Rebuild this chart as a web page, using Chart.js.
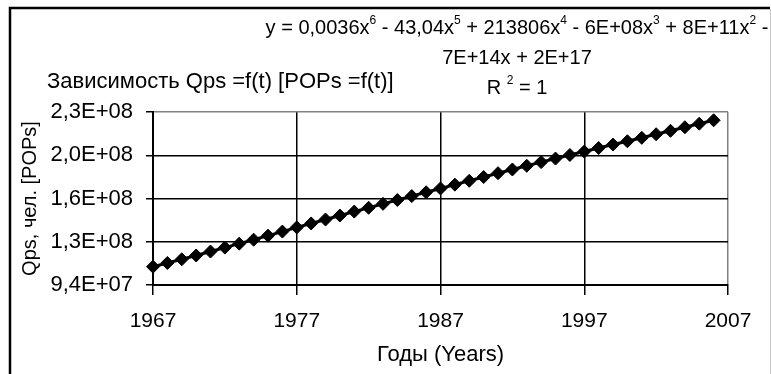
<!DOCTYPE html>
<html>
<head>
<meta charset="utf-8">
<script src="https://cdn.jsdelivr.net/npm/chart.js@4/dist/chart.umd.min.js"></script>
<style>
  html, body { margin: 0; padding: 0; background: #fff; }
  #wrap { width: 771px; height: 374px; }
</style>
</head>
<body>
<div id="wrap"><canvas id="popChart" width="771" height="374"></canvas></div>
<script>
// years and population (persons)
const years = [
  1967, 1968, 1969, 1970, 1971, 1972, 1973, 1974, 1975, 1976,
  1977, 1978, 1979, 1980, 1981, 1982, 1983, 1984, 1985, 1986,
  1987, 1988, 1989, 1990, 1991, 1992, 1993, 1994, 1995, 1996,
  1997, 1998, 1999, 2000, 2001, 2002, 2003, 2004, 2005, 2006
];
const population = [
  108.4e6, 111.3e6, 114.2e6, 117.2e6, 120.3e6, 123.4e6, 126.5e6, 129.6e6, 132.8e6, 136.0e6,
  139.3e6, 142.4e6, 145.5e6, 148.6e6, 151.7e6, 154.7e6, 157.8e6, 160.8e6, 163.9e6, 166.9e6,
  169.9e6, 172.9e6, 175.9e6, 178.9e6, 181.9e6, 184.8e6, 187.7e6, 190.6e6, 193.4e6, 196.2e6,
  198.9e6, 201.7e6, 204.4e6, 207.0e6, 209.7e6, 212.5e6, 215.2e6, 218.0e6, 220.8e6, 223.5e6
];

const xTicks = [1967, 1977, 1987, 1997, 2007];
const yTicks = [94e6, 128e6, 162e6, 196e6, 230e6];

const chartTitle = 'Зависимость Qps =f(t) [POPs =f(t)]';
const xTitle = 'Годы (Years)';
const yTitle = 'Qps, чел. [POPs]';

// trendline label: [text, superscript] pieces per line
const trendLines = [
  [['y = 0,0036x', '6'], [' - 43,04x', '5'], [' + 213806x', '4'], [' - 6E+08x', '3'], [' + 8E+11x', '2'], [' -', '']],
  [['7E+14x + 2E+17', '']],
  [['R ', '2'], [' = 1', '']]
];

const FONT = "'Liberation Sans', Arial, sans-serif";

// 9.4E+07 style labels with a decimal comma
function sciLabel(v) {
  const [m, e] = v.toExponential(1).split('e');
  const exp = parseInt(e, 10);
  const sign = exp < 0 ? '-' : '+';
  return m.replace('.', ',') + 'E' + sign + String(Math.abs(exp)).padStart(2, '0');
}

function drawRich(ctx, parts, cx, cy, size) {
  const base = size + 'px ' + FONT;
  const sup = Math.round(size * 0.62) + 'px ' + FONT;
  let total = 0;
  parts.forEach(([t, s]) => {
    ctx.font = base; total += ctx.measureText(t).width;
    if (s) { ctx.font = sup; total += ctx.measureText(s).width; }
  });
  let x = cx - total / 2;
  ctx.textAlign = 'left';
  ctx.textBaseline = 'middle';
  parts.forEach(([t, s]) => {
    ctx.font = base;
    ctx.fillText(t, x, cy);
    x += ctx.measureText(t).width;
    if (s) {
      ctx.font = sup;
      ctx.fillText(s, x, cy - size * 0.38);
      x += ctx.measureText(s).width;
    }
  });
}

// white page, outer frame, title and trendline text
const decor = {
  id: 'decor',
  beforeDraw(chart) {
    const ctx = chart.ctx;
    ctx.save();
    ctx.fillStyle = '#fff';
    ctx.fillRect(0, 0, chart.width, chart.height);
    ctx.strokeStyle = '#000';
    ctx.lineWidth = 2.5;
    ctx.beginPath();
    ctx.moveTo(10, 380);
    ctx.lineTo(10, 8);
    ctx.lineTo(770, 8);
    ctx.stroke();
    ctx.strokeStyle = '#c8c8c8';
    ctx.lineWidth = 1;
    ctx.beginPath();
    ctx.moveTo(770.5, 9);
    ctx.lineTo(770.5, 380);
    ctx.stroke();
    ctx.restore();
  },
  afterDraw(chart) {
    const ctx = chart.ctx;
    ctx.save();
    ctx.fillStyle = '#000';
    ctx.font = '22px ' + FONT;
    ctx.textAlign = 'left';
    ctx.textBaseline = 'middle';
    ctx.fillText(chartTitle, 47, 82);
    const rows = [28, 58, 88];
    trendLines.forEach((parts, i) => drawRich(ctx, parts, 517, rows[i], 20));
    ctx.restore();
  }
};

Chart.defaults.color = '#000';
Chart.defaults.font.family = FONT;

new Chart(document.getElementById('popChart'), {
  type: 'line',
  data: {
    datasets: [{
      data: years.map((y, i) => ({ x: y, y: population[i] })),
      borderColor: '#000',
      backgroundColor: '#000',
      borderWidth: 3,
      pointStyle: 'rectRot',
      pointRadius: 6.5,
      pointBorderWidth: 1,
      pointBackgroundColor: '#000',
      pointBorderColor: '#000',
      tension: 0,
      clip: false
    }]
  },
  options: {
    responsive: false,
    animation: false,
    layout: { padding: { left: 0, top: 112, right: 43, bottom: 0 } },
    plugins: {
      legend: { display: false },
      tooltip: { enabled: false }
    },
    scales: {
      x: {
        type: 'linear',
        min: 1967,
        max: 2007,
        afterBuildTicks: s => { s.ticks = xTicks.map(v => ({ value: v })); },
        afterFit: s => { s.height = 89; },
        ticks: {
          font: { size: 21 },
          padding: 14,
          maxRotation: 0,
          callback: v => String(v)
        },
        grid: {
          color: c => (c.tick && c.tick.value === 2007 ? '#808080' : '#000'),
          lineWidth: 1.5,
          tickColor: '#000',
          tickLength: 10
        },
        border: { color: '#000', width: 2 },
        title: {
          display: true,
          text: xTitle,
          font: { size: 22 },
          padding: { top: 0, bottom: 6 }
        }
      },
      y: {
        min: 94e6,
        max: 230e6,
        afterBuildTicks: s => { s.ticks = yTicks.map(v => ({ value: v })); },
        afterFit: s => { s.width = 153; },
        ticks: {
          font: { size: 22 },
          padding: 13,
          callback: v => sciLabel(v)
        },
        grid: {
          color: c => (c.tick && c.tick.value === 230e6 ? '#808080' : '#000'),
          lineWidth: 1.5,
          tickColor: '#000',
          tickLength: 7
        },
        border: { color: '#000', width: 2 },
        title: {
          display: true,
          text: yTitle,
          font: { size: 20 },
          padding: { top: 18, bottom: 0 }
        }
      }
    }
  },
  plugins: [decor]
});
</script>
</body>
</html>
